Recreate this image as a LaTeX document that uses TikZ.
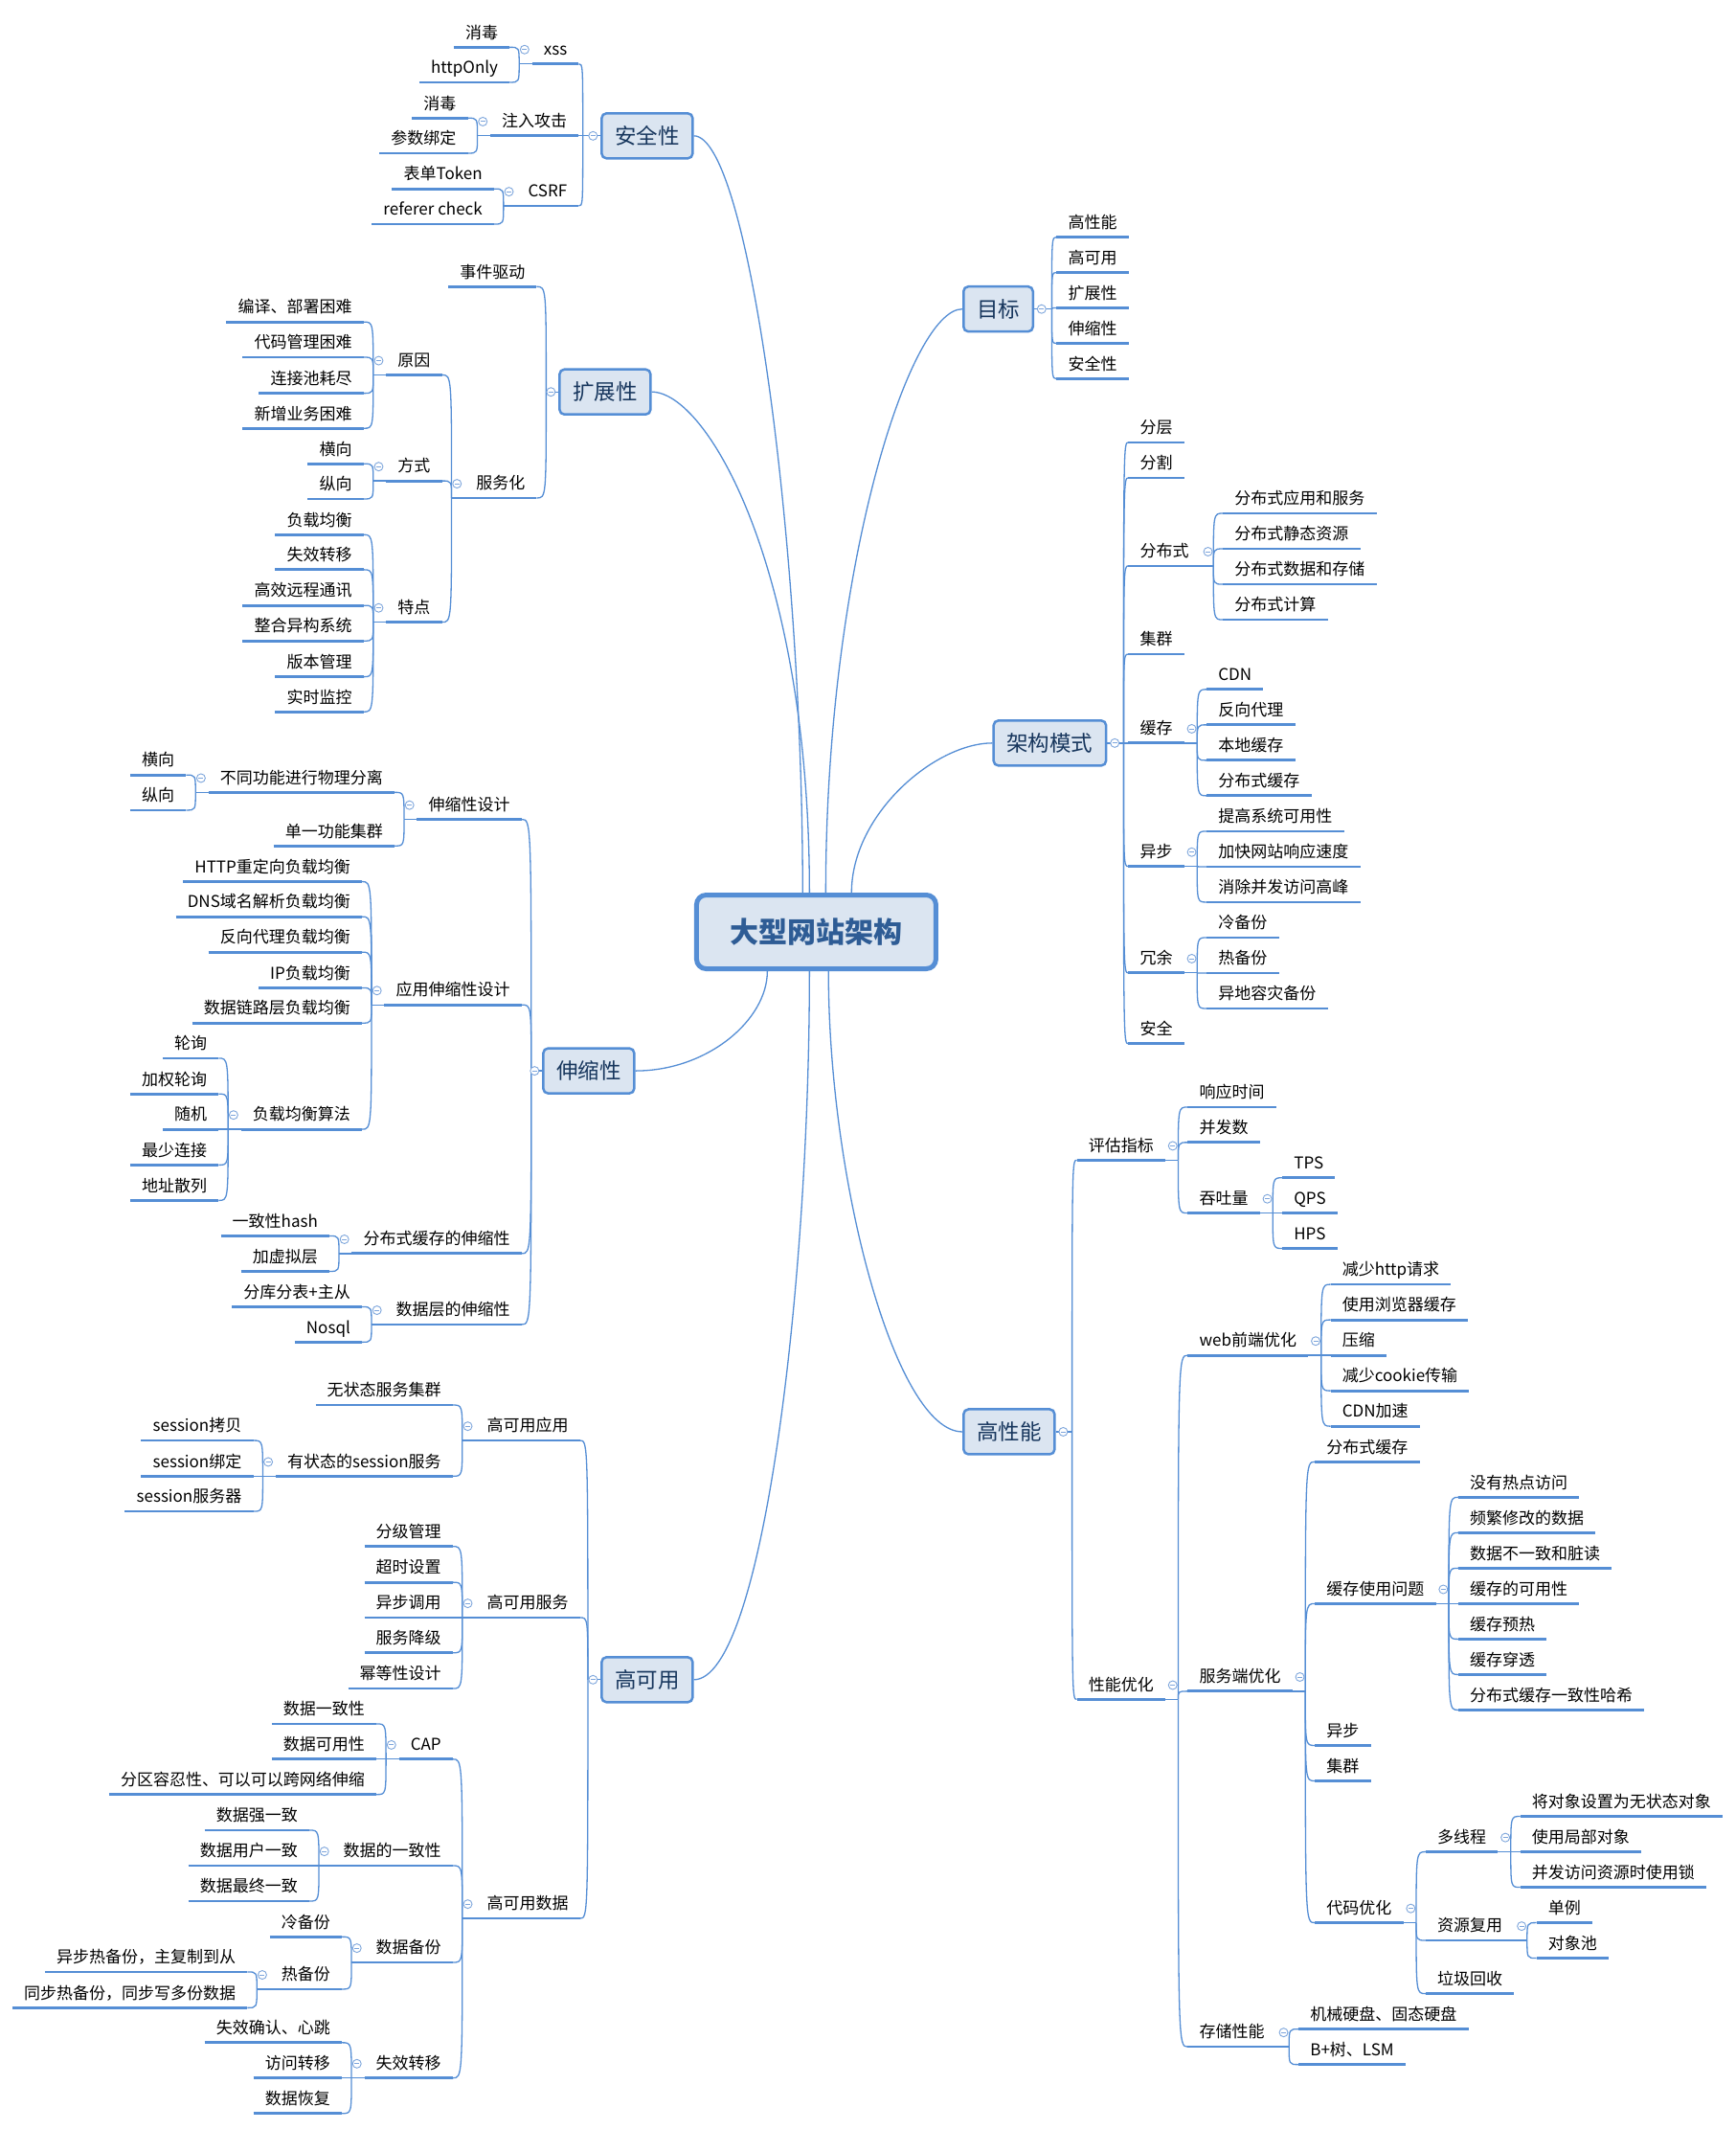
\documentclass[tikz,border=0pt]{standalone}
\usepackage{fontspec}
\setmainfont{Noto Sans CJK SC}
\usetikzlibrary{calc}
\definecolor{lb}{HTML}{558ED5}
\definecolor{boxfill}{HTML}{DBE5F1}
\definecolor{boxtext}{HTML}{17365D}
\definecolor{ctext}{HTML}{2E5C95}
\definecolor{cirb}{HTML}{7EA6DC}
\newcommand\leaffont{\fontsize{17pt}{20pt}\selectfont}
\newcommand\topicfont{\fontsize{22.5pt}{26pt}\selectfont}
\newcommand\centerfont{\fontsize{30pt}{34pt}\selectfont\bfseries}
\tikzset{
  lnk/.style={draw=lb, line width=1.3pt},
  ul/.style={draw=lb, line width=2.8pt},
  cir/.style={draw=cirb, line width=0.9pt, fill=white},
  leaf/.style={font=\leaffont, text=black, inner xsep=12pt, inner ysep=5pt, text height=13pt, text depth=4pt},
  topic/.style={draw=lb, line width=2.5pt, fill=boxfill, rounded corners=5pt, font=\topicfont, text=boxtext, inner xsep=13.75pt, inner ysep=0pt, minimum height=47pt, text height=19pt, text depth=2pt},
  centre/.style={draw=lb, line width=5pt, fill=boxfill, rounded corners=10pt, font=\centerfont, text=ctext, minimum width=250pt, minimum height=77pt, text height=25pt, text depth=2pt}
}
\newcommand\cmark[1]{\draw[cir] #1 circle[radius=4.5pt]; \draw[cir] #1 ++(-2.5pt,0pt) -- ++(5pt,0pt);}
% #1 parent, #2 anchor, #3 parent->trunk gap, #4 circle y offset, #5 trunk->child gap, #6 list
\newcommand\LK[6]{%
  \coordinate (#1-t) at ($(#1.#2)+(-#3,0)$);
  \draw[lnk] (#1.#2) -- (#1-t);
  \foreach \nm/\yy/\tx in {#6}{%
    \node[leaf,anchor=south east] (\nm) at ($(#1-t |- 0,\yy)+(-#5,0)$) {\tx};
    \draw[ul] (\nm.south west) -- (\nm.south east);
    \draw[lnk] (#1-t) .. controls (#1-t |- \nm.south east) .. (\nm.south east);
  }%
  \cmark{($(#1.#2)+(-5.5,#4)$)}%
}
\newcommand\RK[6]{%
  \coordinate (#1-t) at ($(#1.#2)+(#3,0)$);
  \draw[lnk] (#1.#2) -- (#1-t);
  \foreach \nm/\yy/\tx in {#6}{%
    \node[leaf,anchor=south west] (\nm) at ($(#1-t |- 0,\yy)+(#5,0)$) {\tx};
    \draw[ul] (\nm.south west) -- (\nm.south east);
    \draw[lnk] (#1-t) .. controls (#1-t |- \nm.south west) .. (\nm.south west);
  }%
  \cmark{($(#1.#2)+(5.5,#4)$)}%
}
\begin{document}
\begin{tikzpicture}[x=1.4186pt,y=-1.4186pt]
\fill[white] (0,0) rectangle (1278,1568);
\useasboundingbox (0,0) rectangle (1278,1568);

% centre
\node[centre] (center) at (601,686) {大型网站架构};

% level-1 topics
\node[topic] (anquan) at (476.5,100) {安全性};
\node[topic] (kuozhan) at (445.5,288.5) {扩展性};
\node[topic] (shensuo) at (433.5,788.3) {伸缩性};
\node[topic] (gaoky) at (476.5,1236.5) {高可用};
\node[topic] (mubiao) at (735,227.5) {目标};
\node[topic] (jiagou) at (773,547) {架构模式};
\node[topic] (gaoxn) at (743,1054) {高性能};

% main connectors
\draw[lnk] (anquan.east) .. controls +(40,0) and +(0,-258) .. ($(center.north)+(-10,0)$);
\draw[lnk] (kuozhan.east) .. controls +(41,0) and +(0,-238) .. ($(center.north)+(-5,0)$);
\draw[lnk] (mubiao.west) .. controls +(-39,0) and +(0,-238) .. ($(center.north)+(7,0)$);
\draw[lnk] (jiagou.west) .. controls +(-42,0) and +(0,-58) .. ($(center.north)+(26,0)$);
\draw[lnk] (shensuo.east) .. controls +(53,0) and +(0,36) .. ($(center.south)+(-36,0)$);
\draw[lnk] (gaoky.east) .. controls +(50,0) and +(0,236) .. ($(center.south)+(-5,0)$);
\draw[lnk] (gaoxn.west) .. controls +(-49,0) and +(0,156) .. ($(center.south)+(9,0)$);

% 安全性
\LK{anquan}{west}{13}{0}{3}{xss/47/xss, zhuru/100/注入攻击, csrf/151.6/CSRF}
\LK{xss}{south west}{9.5}{-10.5}{7}{xd1/34.8/消毒, httponly/60.6/httpOnly}
\LK{zhuru}{south west}{9.5}{-10.5}{7}{xd2/86.9/消毒, csbd/112.8/参数绑定}
\LK{csrf}{south west}{9.5}{-10.5}{7}{bdtoken/139/表单Token, referer/165/referer check}

% 扩展性
\LK{kuozhan}{west}{9}{0}{7}{sjqd/211/事件驱动, fwh/366.6/服务化}
\LK{fwh}{south west}{9.5}{-10.5}{7}{yuanyin/276/原因, fangshi/354/方式, tedian/458/特点}
\LK{yuanyin}{south west}{9.5}{-10.5}{7}{by1/237/编译、部署困难, by2/263/代码管理困难, by3/289.5/连接池耗尽, by4/315.3/新增业务困难}
\LK{fangshi}{south west}{9.5}{-10.5}{7}{fs1/341.4/横向, fs2/367.3/纵向}
\LK{tedian}{south west}{9.5}{-10.5}{7}{td1/393.6/负载均衡, td2/419.4/失效转移, td3/445.7/高效远程通讯, td4/471.8/整合异构系统, td5/498.2/版本管理, td6/524/实时监控}

% 伸缩性
\LK{shensuo}{west}{8}{0}{7}{sssj/603.2/伸缩性设计, yysj/739.7/应用伸缩性设计, fbhc/922.8/分布式缓存的伸缩性, sjc/975/数据层的伸缩性}
\LK{sssj}{south west}{9.5}{-10.5}{7}{btgn/583.3/不同功能进行物理分离, dygn/622.7/单一功能集群}
\LK{btgn}{south west}{9.5}{-10.5}{7}{hx/570.5/横向, zx/596.4/纵向}
\LK{yysj}{south west}{9.5}{-10.5}{7}{http/649/HTTP重定向负载均衡, dns/674.8/DNS域名解析负载均衡, fxdl/700.9/反向代理负载均衡, ipfz/727.2/IP负载均衡, sjll/753.1/数据链路层负载均衡, fzsf/831.3/负载均衡算法}
\LK{fzsf}{south west}{9.5}{-10.5}{7}{lx/779/轮询, jqlx/805.3/加权轮询, sj/831.3/随机, zslj/857.6/最少连接, dzsl/883.7/地址散列}
\LK{fbhc}{south west}{9.5}{-10.5}{7}{yzx/909.8/一致性hash, jxnc/935.9/加虚拟层}
\LK{sjc}{south west}{9.5}{-10.5}{7}{fkfb/962/分库分表+主从, nosql/988/Nosql}

% 高可用
\LK{gaoky}{west}{9.3}{0}{5.8}{kyyy/1060.4/高可用应用, kyfw/1190.8/高可用服务, kysj/1412.2/高可用数据}
\LK{kyyy}{south west}{9.5}{-10.5}{7}{wzt/1034.3/无状态服务集群, yzt/1086.7/有状态的session服务}
\LK{yzt}{south west}{9.5}{-10.5}{7}{sskb/1060.4/session拷贝, ssbd/1086.7/session绑定, ssfw/1112.6/session服务器}
\LK{kyfw}{south west}{9.5}{-10.5}{7}{fjgl/1138.4/分级管理, cssz/1164.8/超时设置, ybdy/1190.8/异步调用, fwjj/1216.7/服务降级, mdx/1243/幂等性设计}
\LK{kysj}{south west}{9.5}{-10.5}{7}{cap/1295/CAP, sjyzx/1373.4/数据的一致性, sjbf/1444.6/数据备份, sxzy/1529.7/失效转移}
\LK{cap}{south west}{9.5}{-10.5}{7}{capa/1269/数据一致性, capb/1295/数据可用性, capc/1321/分区容忍性、可以可以跨网络伸缩}
\LK{sjyzx}{south west}{9.5}{-10.5}{7}{yza/1347.3/数据强一致, yzb/1373.4/数据用户一致, yzc/1399.5/数据最终一致}
\LK{sjbf}{south west}{9.5}{-10.5}{7}{lbf/1425.8/冷备份, rbf/1464.3/热备份}
\LK{rbf}{south west}{9.5}{-10.5}{7}{rba/1451.6/异步热备份，主复制到从, rbb/1478/同步热备份，同步写多份数据}
\LK{sxzy}{south west}{9.5}{-10.5}{7}{sxa/1503.7/失效确认、心跳, sxb/1529.7/访问转移, sxc/1555.8/数据恢复}

% 目标
\RK{mubiao}{east}{13}{0}{3.5}{mba/174.5/高性能, mbb/200.6/高可用, mbc/226.7/扩展性, mbd/252.8/伸缩性, mbe/278.9/安全性}

% 架构模式
\RK{jiagou}{east}{12}{0}{3.5}{fc/325.7/分层, fg/351.8/分割, fbs/416.6/分布式, jq/481.6/集群, hc/547/缓存, yb/637.8/异步, ry/716.2/冗余, aq/768.3/安全}
\RK{fbs}{south east}{9.5}{-10.5}{7}{fba/377.9/分布式应用和服务, fbb/404/分布式静态资源, fbc/430.1/分布式数据和存储, fbd/456.2/分布式计算}
\RK{hc}{south east}{9.5}{-10.5}{7}{hca/507.5/CDN, hcb/533.6/反向代理, hcc/559.7/本地缓存, hcd/585.8/分布式缓存}
\RK{yb}{south east}{9.5}{-10.5}{7}{yba/611.9/提高系统可用性, ybb/638/加快网站响应速度, ybc/664.1/消除并发访问高峰}
\RK{ry}{south east}{9.5}{-10.5}{7}{rya/690.2/冷备份, ryb/716.3/热备份, ryc/742.4/异地容灾备份}

% 高性能
\RK{gaoxn}{east}{12}{0}{3.5}{pgzb/854/评估指标, xnyh/1251/性能优化}
\RK{pgzb}{south east}{9.5}{-10.5}{7}{xysj/815/响应时间, bfs/841/并发数, ttl/893/吞吐量}
\RK{ttl}{south east}{9.5}{-10.5}{7}{tps/867/TPS, qps/893/QPS, hps/919/HPS}
\RK{xnyh}{south east}{9.5}{-10.5}{7}{webyh/997.7/web前端优化, fwdyh/1245/服务端优化, ccxn/1506.7/存储性能}
\RK{webyh}{south east}{9.5}{-10.5}{7}{wa/945.5/减少http请求, wb/971.6/使用浏览器缓存, wc/997.7/压缩, wd/1023.8/减少cookie传输, we/1049.9/CDN加速}
\RK{fwdyh}{south east}{9.5}{-10.5}{7}{sa/1076.1/分布式缓存, sb/1180.5/缓存使用问题, sc/1284.9/异步, sd/1311/集群, se/1415.4/代码优化}
\RK{sb}{south east}{9.5}{-10.5}{7}{qa/1102.2/没有热点访问, qb/1128.3/频繁修改的数据, qc/1154.4/数据不一致和脏读, qd/1180.5/缓存的可用性, qe/1206.6/缓存预热, qf/1232.7/缓存穿透, qg/1258.8/分布式缓存一致性哈希}
\RK{se}{south east}{9.5}{-10.5}{7}{dxc/1363.2/多线程, zyfy/1428.4/资源复用, ljhs/1467.6/垃圾回收}
\RK{dxc}{south east}{9.5}{-10.5}{7}{da/1337.1/将对象设置为无状态对象, db/1363.2/使用局部对象, dc/1389.3/并发访问资源时使用锁}
\RK{zyfy}{south east}{9.5}{-10.5}{7}{za/1415.4/单例, zb/1441.5/对象池}
\RK{ccxn}{south east}{9.5}{-10.5}{7}{ca/1493.7/机械硬盘、固态硬盘, cb/1519.8/B+树、LSM}
\end{tikzpicture}
\end{document}
